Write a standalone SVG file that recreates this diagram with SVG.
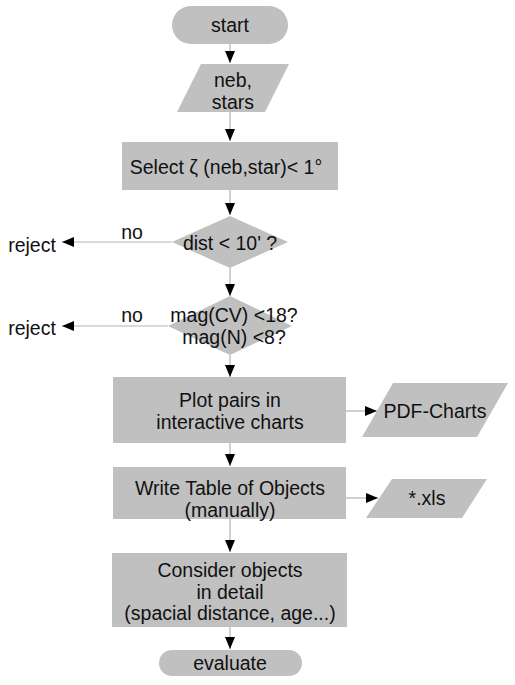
<svg xmlns="http://www.w3.org/2000/svg" width="515" height="685" viewBox="0 0 515 685">
<defs>
<marker id="ah" viewBox="0 0 12 10" refX="12" refY="5" markerWidth="12" markerHeight="10" markerUnits="userSpaceOnUse" orient="auto">
<path d="M0,0 L12,5 L0,10 Z" fill="#000"/>
</marker>
<style>
.s{fill:#c0c0c0;stroke:none}
.t{font-family:"Liberation Sans",Arial,sans-serif;font-size:19.5px;fill:#111;text-anchor:middle;dominant-baseline:central}
.l{fill:none;stroke:#b3b3b3;stroke-width:1.2;marker-end:url(#ah)}
</style>
</defs>
<rect width="515" height="685" fill="#fff"/>
<g id="connectors">
<line class="l" x1="230" y1="44" x2="230" y2="63"/>
<line class="l" x1="230" y1="112" x2="230" y2="141"/>
<line class="l" x1="230" y1="190" x2="230" y2="215"/>
<line class="l" x1="172" y1="242" x2="62" y2="242"/>
<line class="l" x1="230" y1="268" x2="230" y2="296"/>
<line class="l" x1="168" y1="326" x2="62" y2="326"/>
<line class="l" x1="230" y1="355" x2="230" y2="377"/>
<line class="l" x1="346" y1="411" x2="377" y2="411"/>
<line class="l" x1="230" y1="443" x2="230" y2="466"/>
<line class="l" x1="346" y1="498" x2="378" y2="498"/>
<line class="l" x1="230" y1="519" x2="230" y2="552"/>
<line class="l" x1="230" y1="627" x2="230" y2="649"/>
</g>
<g id="start">
<rect class="s" x="172" y="6" width="116" height="38" rx="19"/>
<text class="t" x="230" y="25">start</text>
</g>
<g id="input">
<polygon class="s" points="201,64 289,64 265,112 177,112"/>
<text class="t" x="233" y="80">neb,</text>
<text class="t" x="233" y="102">stars</text>
</g>
<g id="select">
<rect class="s" x="122" y="142" width="216" height="48"/>
<text class="t" x="226" y="167">Select ζ (neb,star)&lt; 1°</text>
</g>
<g id="dist">
<polygon class="s" points="230,216 288,242 230,268 172,242"/>
<text class="t" x="230" y="243">dist &lt; 10' ?</text>
</g>
<g id="reject1">
<text class="t" x="32" y="245">reject</text>
<text class="t" x="132" y="232">no</text>
</g>
<g id="mag">
<polygon class="s" points="230,296 292,326 230,355 168,326"/>
<text class="t" x="234" y="315">mag(CV) &lt;18?</text>
<text class="t" x="234" y="337">mag(N) &lt;8?</text>
</g>
<g id="reject2">
<text class="t" x="32" y="328">reject</text>
<text class="t" x="132" y="315">no</text>
</g>
<g id="plot">
<rect class="s" x="113" y="377" width="233" height="66"/>
<text class="t" x="230" y="400">Plot pairs in</text>
<text class="t" x="230" y="422">interactive charts</text>
</g>
<g id="pdf">
<polygon class="s" points="393,383 508,383 477,437 362,437"/>
<text class="t" x="435" y="411">PDF-Charts</text>
</g>
<g id="write">
<rect class="s" x="113" y="467" width="233" height="52"/>
<text class="t" x="230" y="488">Write Table of Objects</text>
<text class="t" x="230" y="510">(manually)</text>
</g>
<g id="xls">
<polygon class="s" points="392,479 487,479 462,518 366,518"/>
<text class="t" x="427" y="498">*.xls</text>
</g>
<g id="consider">
<rect class="s" x="112" y="553" width="235" height="74"/>
<text class="t" x="230" y="570">Consider objects</text>
<text class="t" x="230" y="592">in detail</text>
<text class="t" x="230" y="613">(spacial distance, age...)</text>
</g>
<g id="evaluate">
<rect class="s" x="159" y="650" width="143" height="26" rx="13"/>
<text class="t" x="230" y="663">evaluate</text>
</g>
</svg>
